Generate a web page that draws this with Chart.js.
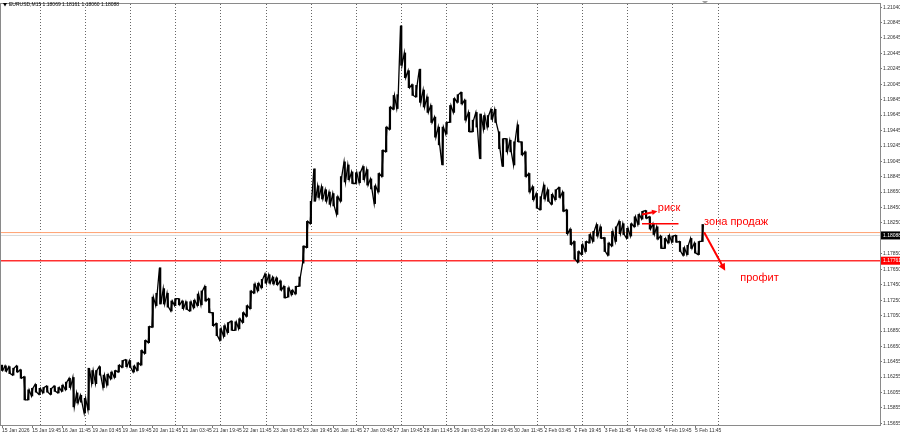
<!DOCTYPE html>
<html>
<head>
<meta charset="utf-8">
<script src="https://cdn.jsdelivr.net/npm/chart.js@4/dist/chart.umd.min.js"></script>
<style>
  html, body { margin: 0; padding: 0; background: #fff; }
  canvas { display: block; }
</style>
</head>
<body>
<canvas id="chart" width="900" height="436"></canvas>
<script>
// EURUSD M15, one sample per 2 hours (8 bars)
const symbolTitle = "EURUSD,M15 1.18069 1.18161 1.18060 1.18088";

const highs = [
  1.1641, 1.1640, 1.1639, 1.1637, 1.1640, 1.1635, 1.1626, 1.1609, 1.1611, 1.1616,
  1.1611, 1.1612, 1.1614, 1.1611, 1.1614, 1.1612, 1.1615, 1.1619, 1.1624, 1.1625,
  1.1605, 1.1602, 1.1598, 1.1637, 1.1634, 1.1634, 1.1639, 1.1628, 1.1629, 1.1632,
  1.1634, 1.1641, 1.1647, 1.1648, 1.1647, 1.1640, 1.1644, 1.1660, 1.1673, 1.1691,
  1.1729, 1.1734, 1.1767, 1.1740, 1.1734, 1.1724, 1.1727, 1.1727, 1.1724, 1.1723,
  1.1723, 1.1725, 1.1733, 1.1737, 1.1743, 1.1727, 1.1709, 1.1695, 1.1688, 1.1692,
  1.1696, 1.1698, 1.1697, 1.1701, 1.1709, 1.1718, 1.1737, 1.1746, 1.1747, 1.1752,
  1.1759, 1.1758, 1.1755, 1.1754, 1.1750, 1.1743, 1.1741, 1.1738, 1.1743, 1.1755,
  1.1795, 1.1827, 1.1853, 1.1895, 1.1873, 1.1872, 1.1868, 1.1865, 1.1863, 1.1859,
  1.1885, 1.1904, 1.1900, 1.1891, 1.1890, 1.1891, 1.1898, 1.1894, 1.1882, 1.1873,
  1.1889, 1.1919, 1.1949, 1.1975, 1.1990, 1.1991, 1.2080, 1.2045, 1.2022, 1.2004,
  1.2003, 1.2024, 1.1997, 1.1988, 1.1977, 1.1962, 1.1949, 1.1949, 1.1955, 1.1977,
  1.1986, 1.1991, 1.1994, 1.1984, 1.1968, 1.1958, 1.1968, 1.1966, 1.1964, 1.1964,
  1.1972, 1.1972, 1.1943, 1.1934, 1.1934, 1.1932, 1.1930, 1.1952, 1.1930, 1.1917,
  1.1889, 1.1872, 1.1863, 1.1859, 1.1874, 1.1868, 1.1862, 1.1868, 1.1871, 1.1865,
  1.1842, 1.1817, 1.1801, 1.1788, 1.1797, 1.1801, 1.1810, 1.1814, 1.1823, 1.1820,
  1.1806, 1.1799, 1.1814, 1.1820, 1.1827, 1.1824, 1.1818, 1.1824, 1.1833, 1.1836,
  1.1840, 1.1841, 1.1833, 1.1824, 1.1820, 1.1808, 1.1805, 1.1809, 1.1808, 1.1809,
  1.1801, 1.1793, 1.1796, 1.1805, 1.1799, 1.1801, 1.1823
];

const lows = [
  1.1634, 1.1633, 1.1630, 1.1628, 1.1632, 1.1624, 1.1596, 1.1596, 1.1601, 1.1606,
  1.1603, 1.1605, 1.1606, 1.1603, 1.1607, 1.1605, 1.1607, 1.1609, 1.1612, 1.1587,
  1.1592, 1.1593, 1.1579, 1.1583, 1.1617, 1.1617, 1.1628, 1.1612, 1.1615, 1.1623,
  1.1625, 1.1632, 1.1638, 1.1639, 1.1638, 1.1632, 1.1634, 1.1641, 1.1656, 1.1670,
  1.1690, 1.1718, 1.1720, 1.1720, 1.1716, 1.1711, 1.1718, 1.1719, 1.1714, 1.1713,
  1.1711, 1.1715, 1.1718, 1.1719, 1.1724, 1.1709, 1.1692, 1.1679, 1.1673, 1.1678,
  1.1683, 1.1686, 1.1686, 1.1688, 1.1696, 1.1704, 1.1714, 1.1734, 1.1737, 1.1741,
  1.1747, 1.1747, 1.1746, 1.1745, 1.1738, 1.1728, 1.1729, 1.1732, 1.1733, 1.1743,
  1.1773, 1.1793, 1.1824, 1.1853, 1.1858, 1.1856, 1.1853, 1.1849, 1.1847, 1.1836,
  1.1853, 1.1878, 1.1881, 1.1876, 1.1876, 1.1877, 1.1881, 1.1874, 1.1869, 1.1850,
  1.1865, 1.1885, 1.1917, 1.1946, 1.1972, 1.1973, 1.2029, 1.2013, 1.2000, 1.1990,
  1.1988, 1.1981, 1.1975, 1.1968, 1.1955, 1.1936, 1.1926, 1.1900, 1.1940, 1.1955,
  1.1968, 1.1981, 1.1979, 1.1958, 1.1943, 1.1943, 1.1949, 1.1908, 1.1946, 1.1949,
  1.1959, 1.1955, 1.1921, 1.1898, 1.1917, 1.1917, 1.1900, 1.1930, 1.1913, 1.1885,
  1.1865, 1.1855, 1.1844, 1.1842, 1.1856, 1.1853, 1.1849, 1.1855, 1.1858, 1.1840,
  1.1811, 1.1797, 1.1778, 1.1774, 1.1784, 1.1788, 1.1799, 1.1801, 1.1808, 1.1805,
  1.1788, 1.1783, 1.1795, 1.1801, 1.1811, 1.1810, 1.1805, 1.1808, 1.1820, 1.1823,
  1.1830, 1.1831, 1.1817, 1.1810, 1.1804, 1.1792, 1.1792, 1.1799, 1.1800, 1.1800,
  1.1788, 1.1783, 1.1784, 1.1792, 1.1786, 1.1784, 1.1801
];

// one time label every 8 samples (16 hours)
const timeLabels = [
  "15 Jan 2026", "15 Jan 19:45", "16 Jan 11:45", "19 Jan 03:45", "19 Jan 19:45",
  "20 Jan 11:45", "21 Jan 03:45", "21 Jan 19:45", "22 Jan 11:45", "23 Jan 03:45",
  "23 Jan 19:45", "26 Jan 11:45", "27 Jan 03:45", "27 Jan 19:45", "28 Jan 11:45",
  "29 Jan 03:45", "29 Jan 19:45", "30 Jan 11:45", "2 Feb 03:45", "2 Feb 19:45",
  "3 Feb 11:45", "4 Feb 03:45", "4 Feb 19:45", "5 Feb 11:45"
];

const priceTicks = [
  1.21040, 1.20845, 1.20645, 1.20445, 1.20245, 1.20045, 1.19845, 1.19645, 1.19445,
  1.19245, 1.19045, 1.18845, 1.18650, 1.18450, 1.18250, 1.18050, 1.17850, 1.17650,
  1.17450, 1.17250, 1.17050, 1.16850, 1.16650, 1.16455, 1.16255, 1.16055, 1.15855, 1.15655
];

const lastPrice = 1.18088;
const orangeLevel = 1.18125;
const supportLevel = 1.17761;

// hand drawn marks, in sample index / price
const riskLine = [{ x: 169.9, y: 1.1824 }, { x: 179.6, y: 1.1824 }];
const arrows = [
  { from: [169.9, 1.1836], to: [174.0, 1.1840], width: 2, head: 6 },
  { from: [186.4, 1.1813], to: [192.0, 1.1763], width: 2, head: 8 }
];
const notes = [
  { text: "риск", x: 174.1, y: 1.1844 },
  { text: "зона продаж", x: 186.4, y: 1.1826 },
  { text: "профит", x: 196.0, y: 1.1754 }
];

const xMin = -0.27, xMax = 233.1;
const yMin = 1.15635, yMax = 1.21083;

const bars = highs.map((h, i) => ({ x: i, y: [lows[i], h] }));

// trace each sample's low and high in the order the price moves, so the path stays connected
const path = [];
highs.forEach((h, i) => {
  const mid = (h + lows[i]) / 2;
  const next = i + 1 < highs.length ? (highs[i + 1] + lows[i + 1]) / 2 : mid;
  const up = next >= mid;
  path.push({ x: i - 0.2, y: up ? lows[i] : h });
  path.push({ x: i + 0.2, y: up ? h : lows[i] });
});

const overlay = {
  id: 'overlay',
  afterDatasetsDraw(chart) {
    const { ctx, scales: { x, y } } = chart;
    ctx.save();
    ctx.strokeStyle = '#ff0000';
    ctx.fillStyle = '#ff0000';
    // short risk line
    ctx.lineWidth = 1.5;
    ctx.beginPath();
    ctx.moveTo(x.getPixelForValue(riskLine[0].x), y.getPixelForValue(riskLine[0].y));
    ctx.lineTo(x.getPixelForValue(riskLine[1].x), y.getPixelForValue(riskLine[1].y));
    ctx.stroke();
    arrows.forEach(a => {
      const x1 = x.getPixelForValue(a.from[0]), y1 = y.getPixelForValue(a.from[1]);
      const x2 = x.getPixelForValue(a.to[0]), y2 = y.getPixelForValue(a.to[1]);
      const ang = Math.atan2(y2 - y1, x2 - x1);
      ctx.lineWidth = a.width;
      ctx.beginPath();
      ctx.moveTo(x1, y1);
      ctx.lineTo(x2 - Math.cos(ang) * a.head * 0.8, y2 - Math.sin(ang) * a.head * 0.8);
      ctx.stroke();
      ctx.beginPath();
      ctx.moveTo(x2, y2);
      ctx.lineTo(x2 - a.head * Math.cos(ang - 0.45), y2 - a.head * Math.sin(ang - 0.45));
      ctx.lineTo(x2 - a.head * Math.cos(ang + 0.45), y2 - a.head * Math.sin(ang + 0.45));
      ctx.closePath();
      ctx.fill();
    });
    ctx.font = '11px "Liberation Sans", Arial, sans-serif';
    ctx.textBaseline = 'middle';
    ctx.textAlign = 'left';
    notes.forEach(n => {
      ctx.fillText(n.text, x.getPixelForValue(n.x), y.getPixelForValue(n.y));
    });
    ctx.restore();
  },
  afterDraw(chart) {
    const { ctx, chartArea: a, scales: { y } } = chart;
    ctx.save();
    // frame
    ctx.strokeStyle = '#8a8a8a';
    ctx.lineWidth = 1;
    ctx.strokeRect(a.left - 0.5, a.top - 0.5, a.right - a.left + 1, a.bottom - a.top + 1);
    // price boxes on the axis
    ctx.font = '5px "Liberation Sans", Arial, sans-serif';
    ctx.textBaseline = 'middle';
    ctx.textAlign = 'left';
    [[lastPrice, '#000000'], [supportLevel, '#ff0000']].forEach(([p, c]) => {
      const py = y.getPixelForValue(p);
      ctx.fillStyle = c;
      ctx.fillRect(a.right + 1, py - 4, 19, 8);
      ctx.fillStyle = '#ffffff';
      ctx.fillText(p.toFixed(5), a.right + 3, py);
    });
    // header
    ctx.fillStyle = '#000';
    ctx.beginPath();
    ctx.moveTo(3, 3); ctx.lineTo(7, 3); ctx.lineTo(5, 6.5); ctx.closePath();
    ctx.fill();
    ctx.font = '5px "Liberation Sans", Arial, sans-serif';
    ctx.fillText(symbolTitle, 9, 5);
    // chart shift marker
    ctx.fillStyle = '#a0a0a0';
    ctx.beginPath();
    ctx.moveTo(702, 1); ctx.lineTo(708, 1); ctx.lineTo(705, 4); ctx.closePath();
    ctx.fill();
    ctx.restore();
  }
};

new Chart(document.getElementById('chart'), {
  type: 'bar',
  data: {
    datasets: [
      {
        type: 'line',
        data: [{ x: xMin, y: orangeLevel }, { x: xMax, y: orangeLevel }],
        borderColor: '#ffa070', borderWidth: 1, pointRadius: 0, order: 3
      },
      {
        type: 'line',
        data: [{ x: xMin, y: lastPrice }, { x: xMax, y: lastPrice }],
        borderColor: '#d8d8d8', borderWidth: 1, pointRadius: 0, order: 3
      },
      {
        type: 'line',
        data: [{ x: xMin, y: supportLevel }, { x: xMax, y: supportLevel }],
        borderColor: '#ff3030', borderWidth: 1.5, pointRadius: 0, order: 3
      },
      {
        type: 'line',
        data: path,
        borderColor: '#000000',
        borderWidth: 1.3,
        pointRadius: 0,
        tension: 0,
        order: 1
      },
      {
        data: bars,
        backgroundColor: '#000000',
        borderWidth: 0,
        barThickness: 1.5,
        minBarLength: 1,
        order: 2
      }
    ]
  },
  options: {
    responsive: false,
    animation: false,
    devicePixelRatio: 1,
    layout: { padding: { left: 1, top: 1, right: 0, bottom: 0 } },
    plugins: { legend: { display: false }, tooltip: { enabled: false }, title: { display: false } },
    scales: {
      x: {
        type: 'linear',
        position: 'bottom',
        offset: false,
        min: xMin, max: xMax,
        afterBuildTicks: s => { s.ticks = timeLabels.map((_, k) => ({ value: k * 8 })); },
        afterFit: s => { s.height = 11; },
        ticks: {
          autoSkip: false, maxRotation: 0, align: 'start', padding: 0,
          font: { size: 5, family: '"Liberation Sans", Arial, sans-serif' },
          color: '#333',
          callback: (v, i) => timeLabels[i]
        },
        grid: { offset: false, drawOnChartArea: false, tickLength: 3, color: '#777' },
        border: { color: '#8a8a8a' }
      },
      xGrid: {
        type: 'linear',
        position: 'top',
        offset: false,
        min: xMin, max: xMax,
        afterBuildTicks: s => {
          const t = [];
          for (let k = 0; k < 16; k++) t.push({ value: 10.1 + 12 * k });
          s.ticks = t;
        },
        afterFit: s => { s.height = 0; },
        ticks: { display: false },
        grid: { offset: false, drawTicks: false, color: '#666', lineWidth: 1 },
        border: { display: false, dash: [1, 2] }
      },
      y: {
        position: 'right',
        min: yMin, max: yMax,
        afterBuildTicks: s => { s.ticks = priceTicks.map(v => ({ value: v })); },
        afterFit: s => { s.width = 20; },
        ticks: {
          autoSkip: false, padding: 1,
          font: { size: 5, family: '"Liberation Sans", Arial, sans-serif' },
          color: '#333',
          callback: v => (Math.abs(v - lastPrice) < 0.0006 || Math.abs(v - supportLevel) < 0.0006) ? '' : v.toFixed(5)
        },
        grid: { drawOnChartArea: false, tickLength: 2, color: '#777' },
        border: { color: '#555' }
      }
    }
  },
  plugins: [overlay]
});
</script>
</body>
</html>
